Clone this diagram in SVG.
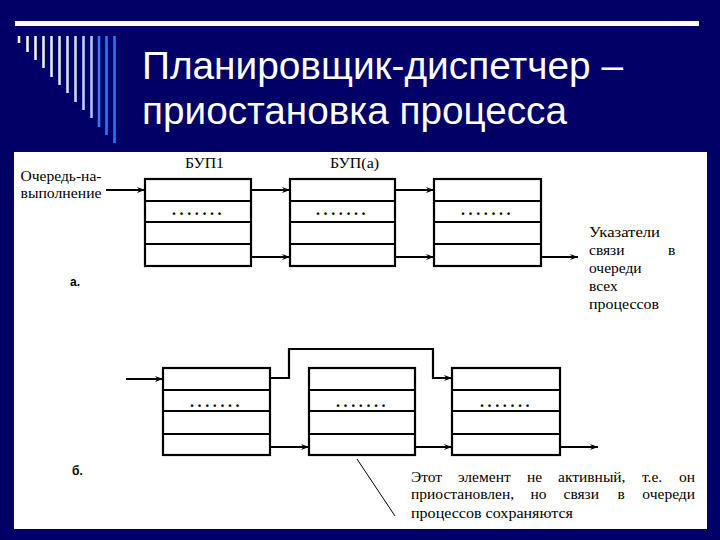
<svg xmlns="http://www.w3.org/2000/svg" width="720" height="540" viewBox="0 0 720 540">
<defs>
<style>
.title{font-family:"Liberation Sans",Arial,sans-serif;font-size:38px;fill:#ffffff}
.box{fill:#ffffff;stroke:#000;stroke-width:2.2}
.row{stroke:#000;stroke-width:2.2}
.conn{fill:none;stroke:#000;stroke-width:2.2}
.lbl{font-family:"Liberation Serif","Times New Roman",serif;font-size:15.5px;fill:#000}
.dots{font-family:"Liberation Serif","Times New Roman",serif;font-size:16px;font-weight:bold;fill:#000;letter-spacing:3.6px}
.tag{font-family:"Liberation Sans",Arial,sans-serif;font-size:12px;font-weight:bold;fill:#000}
</style>
<marker id="arr" markerWidth="10" markerHeight="8" refX="8" refY="3.5" orient="auto" markerUnits="userSpaceOnUse">
<path d="M0,0.5 L8,3.5 L0,6.5 L2.5,3.5 z" fill="#000"/>
</marker>
</defs>
<rect x="0" y="0" width="720" height="540" fill="#000066"/>
<rect x="15" y="21" width="684" height="5" fill="#ffffff"/>
<g id="stripes" stroke-width="2.6">
<line x1="19" y1="36" x2="19" y2="43" stroke="#f4f2e4"/>
<line x1="27.5" y1="36" x2="27.5" y2="52" stroke="#f4f2e4"/>
<line x1="35.5" y1="36" x2="35.5" y2="60" stroke="#f0f0e4"/>
<line x1="43.5" y1="36" x2="43.5" y2="68" stroke="#eceee6"/>
<line x1="51.5" y1="36" x2="51.5" y2="77" stroke="#e6eaea"/>
<line x1="59.5" y1="36" x2="59.5" y2="85" stroke="#dfe6ee"/>
<line x1="67.5" y1="36" x2="67.5" y2="93" stroke="#d6dff0"/>
<line x1="75.5" y1="36" x2="75.5" y2="102" stroke="#ccd8f2"/>
<line x1="83.5" y1="36" x2="83.5" y2="110" stroke="#c0d0f4"/>
<line x1="91.5" y1="36" x2="91.5" y2="118" stroke="#b0c4f4"/>
<line x1="99" y1="36" x2="99" y2="127" stroke="#3a7ae8"/>
<line x1="106.5" y1="36" x2="106.5" y2="135" stroke="#3377ee"/>
<line x1="114.5" y1="36" x2="114.5" y2="143" stroke="#2f74f0"/>
</g>
<text class="title" x="142" y="79" textLength="481" lengthAdjust="spacingAndGlyphs">Планировщик-диспетчер –</text>
<text class="title" x="142" y="124" textLength="425" lengthAdjust="spacingAndGlyphs">приостановка процесса</text>
<rect x="14" y="152" width="693" height="377" fill="#ffffff"/>

<g id="labels-a">
<text class="lbl" x="20.5" y="181" textLength="81" lengthAdjust="spacingAndGlyphs">Очередь-на-</text>
<text class="lbl" x="20.5" y="198" textLength="81" lengthAdjust="spacingAndGlyphs">выполнение</text>
<text class="lbl" x="185" y="168" textLength="39" lengthAdjust="spacingAndGlyphs">БУП1</text>
<text class="lbl" x="330" y="168" textLength="49" lengthAdjust="spacingAndGlyphs">БУП(а)</text>
<text class="tag" x="70" y="286">а.</text>
<text class="lbl" x="589" y="237" textLength="71" lengthAdjust="spacingAndGlyphs">Указатели</text>
<text class="lbl" x="589" y="255">связи</text>
<text class="lbl" x="668" y="255">в</text>
<text class="lbl" x="589" y="273">очереди</text>
<text class="lbl" x="589" y="291">всех</text>
<text class="lbl" x="589" y="309" textLength="70" lengthAdjust="spacingAndGlyphs">процессов</text>
</g>

<g id="a-bup1">
<rect class="box" x="145" y="179" width="106" height="87"/>
<line class="row" x1="145" y1="201" x2="251" y2="201"/>
<line class="row" x1="145" y1="222" x2="251" y2="222"/>
<line class="row" x1="145" y1="244" x2="251" y2="244"/>
<text class="dots" x="172" y="215">.......</text>
</g>
<g id="a-bup2">
<rect class="box" x="290" y="179" width="105" height="87"/>
<line class="row" x1="290" y1="201" x2="395" y2="201"/>
<line class="row" x1="290" y1="222" x2="395" y2="222"/>
<line class="row" x1="290" y1="244" x2="395" y2="244"/>
<text class="dots" x="316" y="215">.......</text>
</g>
<g id="a-bup3">
<rect class="box" x="434" y="179" width="107" height="87"/>
<line class="row" x1="434" y1="201" x2="541" y2="201"/>
<line class="row" x1="434" y1="222" x2="541" y2="222"/>
<line class="row" x1="434" y1="244" x2="541" y2="244"/>
<text class="dots" x="461" y="215">.......</text>
</g>

<g id="labels-b">
<text class="tag" x="72" y="475">б.</text>
<text class="lbl" x="411" y="482">Этот</text>
<text class="lbl" x="458" y="482">элемент</text>
<text class="lbl" x="527" y="482">не</text>
<text class="lbl" x="558" y="482">активный,</text>
<text class="lbl" x="642" y="482">т.е.</text>
<text class="lbl" x="695" y="482" text-anchor="end">он</text>
<text class="lbl" x="411" y="499">приостановлен,</text>
<text class="lbl" x="530.5" y="499">но</text>
<text class="lbl" x="563.5" y="499">связи</text>
<text class="lbl" x="617.5" y="499">в</text>
<text class="lbl" x="695" y="499" text-anchor="end">очереди</text>
<text class="lbl" x="411" y="518" textLength="162" lengthAdjust="spacingAndGlyphs">процессов сохраняются</text>
</g>

<g id="b-box1">
<rect class="box" x="163" y="368" width="107" height="87"/>
<line class="row" x1="163" y1="390" x2="270" y2="390"/>
<line class="row" x1="163" y1="411" x2="270" y2="411"/>
<line class="row" x1="163" y1="434" x2="270" y2="434"/>
<text class="dots" x="190" y="407">.......</text>
</g>
<g id="b-box2">
<rect class="box" x="309" y="368" width="106" height="87"/>
<line class="row" x1="309" y1="390" x2="415" y2="390"/>
<line class="row" x1="309" y1="411" x2="415" y2="411"/>
<line class="row" x1="309" y1="434" x2="415" y2="434"/>
<text class="dots" x="336" y="407">.......</text>
</g>
<g id="b-box3">
<rect class="box" x="452" y="368" width="108" height="87"/>
<line class="row" x1="452" y1="390" x2="560" y2="390"/>
<line class="row" x1="452" y1="411" x2="560" y2="411"/>
<line class="row" x1="452" y1="434" x2="560" y2="434"/>
<text class="dots" x="480" y="407">.......</text>
</g>

<g id="connectors">
<line class="conn" x1="106" y1="190" x2="145" y2="190" marker-end="url(#arr)"/>
<line class="conn" x1="251" y1="190" x2="290" y2="190" marker-end="url(#arr)"/>
<line class="conn" x1="251" y1="257" x2="290" y2="257" marker-end="url(#arr)"/>
<line class="conn" x1="395" y1="190" x2="434" y2="190" marker-end="url(#arr)"/>
<line class="conn" x1="395" y1="257" x2="434" y2="257" marker-end="url(#arr)"/>
<line class="conn" x1="541" y1="257" x2="578" y2="257" marker-end="url(#arr)"/>
<line class="conn" x1="126" y1="379" x2="163" y2="379" marker-end="url(#arr)"/>
<polyline class="conn" points="270,378 289,378 289,349 433,349 433,378 452,378" marker-end="url(#arr)"/>
<line class="conn" x1="270" y1="447" x2="309" y2="447" marker-end="url(#arr)"/>
<line class="conn" x1="415" y1="447" x2="452" y2="447" marker-end="url(#arr)"/>
<line class="conn" x1="560" y1="447" x2="598" y2="447" marker-end="url(#arr)"/>
<line x1="357" y1="459" x2="395" y2="516" stroke="#000" stroke-width="1"/>
</g>
</svg>
